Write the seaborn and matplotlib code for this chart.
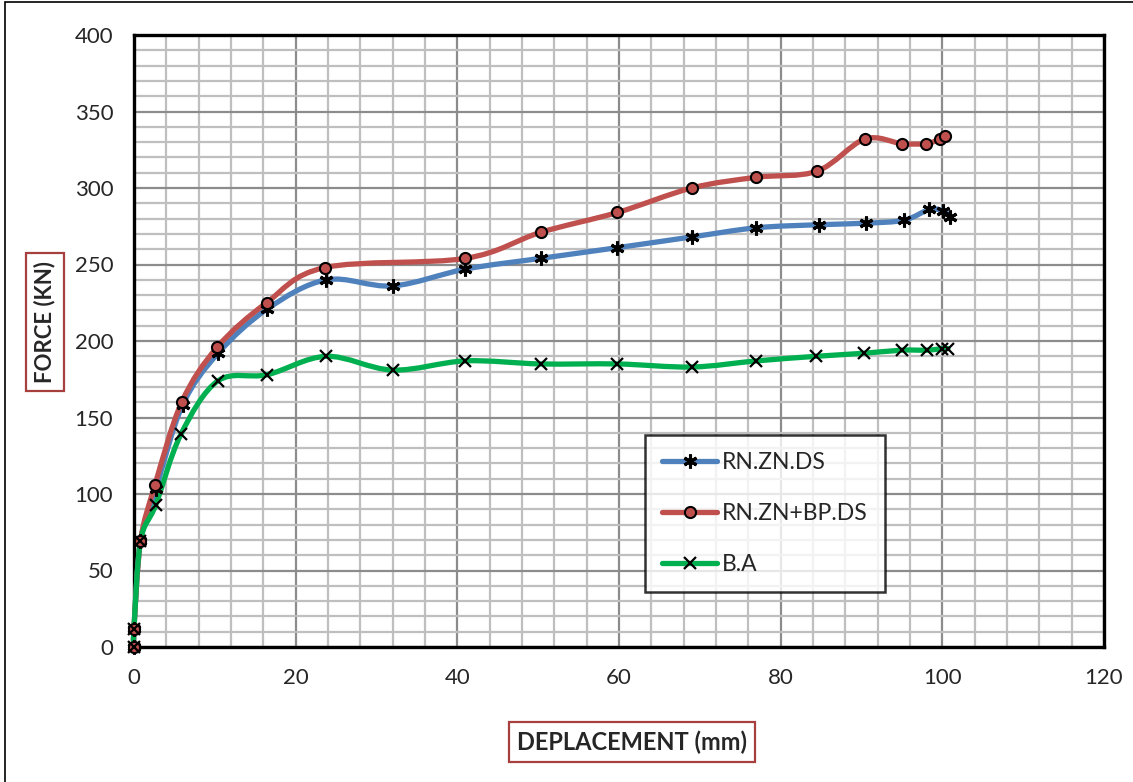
import numpy as np
import matplotlib
matplotlib.use("Agg")
import matplotlib.pyplot as plt
from matplotlib.path import Path
from matplotlib.patches import PathPatch, Rectangle
from matplotlib.lines import Line2D
from matplotlib.ticker import MultipleLocator
import seaborn as sns

# ---- data ----
x_blue = [0, 0, 0.8, 2.7, 6.0, 10.4, 16.5, 23.8, 32.0, 41.0, 50.3, 59.8, 69.0, 77.0, 84.7, 90.6, 95.3, 98.4, 100.1, 101.0]
y_blue = [0, 12, 69, 103, 158, 192, 221, 240, 236, 247, 254, 261, 268, 274, 276, 277, 279, 286, 285, 281]

x_red = [0, 0, 0.8, 2.6, 5.9, 10.3, 16.4, 23.6, 41.0, 50.3, 59.8, 69.0, 77.0, 84.5, 90.4, 95.0, 98.0, 99.7, 100.3]
y_red = [0, 12, 69, 106, 160, 196, 225, 248, 254, 271, 284, 300, 307, 311, 332, 329, 329, 332, 334]

x_green = [0, 0, 0.8, 2.7, 5.8, 10.4, 16.5, 23.8, 32.0, 41.0, 50.3, 59.8, 69.0, 77.0, 84.4, 90.3, 95.0, 98.1, 100.0, 100.7]
y_green = [0, 12, 69, 93, 139, 174, 178, 190, 181, 187, 185, 185, 183, 187, 190, 192, 194, 194, 195, 195]

series = [
    ("RN.ZN.DS", x_blue, y_blue, "#4F81BD", dict(marker=(6, 2, 0), markersize=10, markeredgewidth=2.2,
                                                 markeredgecolor="black", markerfacecolor="black")),
    ("RN.ZN+BP.DS", x_red, y_red, "#C0504D", dict(marker="o", markersize=8, markeredgewidth=1.5,
                                                 markeredgecolor="black", markerfacecolor="#C0504D")),
    ("B.A", x_green, y_green, "#00B050", dict(marker="x", markersize=8, markeredgewidth=1.6,
                                              markeredgecolor="black", markerfacecolor="black")),
]


def smooth_path(xs, ys):
    # excel-like smoothed line: cubic bezier through every point
    pts = np.column_stack([xs, ys]).astype(float)
    verts = [pts[0]]
    codes = [Path.MOVETO]
    n = len(pts)
    for i in range(n - 1):
        p0 = pts[i - 1] if i > 0 else pts[i]
        p1, p2 = pts[i], pts[i + 1]
        p3 = pts[i + 2] if i + 2 < n else pts[i + 1]
        c1 = p1 + (p2 - p0) / 6.0
        c2 = p2 - (p3 - p1) / 6.0
        verts += [c1, c2, p2]
        codes += [Path.CURVE4] * 3
    return Path(verts, codes)


sns.set_style("white")
plt.rcParams['font.family'] = ['Lato', 'DejaVu Sans']

fig = plt.figure(figsize=(11.33, 7.82), dpi=100)
ax = fig.add_axes([134 / 1133, 1 - 647 / 782, 970 / 1133, 612 / 782])

for name, xs, ys, col, mk in series:
    ax.add_patch(PathPatch(smooth_path(xs, ys), facecolor="none", edgecolor=col, lw=3.8,
                           capstyle="round", joinstyle="round", zorder=3, clip_on=False))
    sns.lineplot(x=xs, y=ys, estimator=None, sort=False, linestyle="", ax=ax, zorder=4,
                 clip_on=False, **mk)

ax.set_xlim(0, 120)
ax.set_ylim(0, 400)
ax.xaxis.set_major_locator(MultipleLocator(20))
ax.xaxis.set_minor_locator(MultipleLocator(4))
ax.yaxis.set_major_locator(MultipleLocator(50))
ax.yaxis.set_minor_locator(MultipleLocator(10))
ax.grid(which="minor", color="#BFBFBF", lw=1.6, zorder=0)
ax.grid(which="major", color="#8C8C8C", lw=1.6, zorder=0)
ax.set_axisbelow(True)
for s in ax.spines.values():
    s.set_color("black")
    s.set_linewidth(2.4)
    s.set_zorder(2.5)
ax.tick_params(which="major", direction="out", length=7, width=2, labelsize=16, pad=8, color="black")
ax.tick_params(axis="y", which="major", direction="inout", length=14)
ax.tick_params(which="minor", direction="in", length=6, width=2, color="black")
ax.set_xlabel("")
ax.set_ylabel("")

handles = [Line2D([], [], color=col, lw=3.8, solid_capstyle="round", **mk) for _, _, _, col, mk in series]
leg = ax.legend(handles, [s[0] for s in series], loc="upper left",
                bbox_to_anchor=((645 - 134) / 970, (647 - 435) / 612),
                fontsize=16.5, frameon=True, fancybox=False, handlelength=2.4,
                labelspacing=1.3, borderpad=0.75, handletextpad=0.2, borderaxespad=0)
leg.get_frame().set_edgecolor("black")
leg.get_frame().set_linewidth(1.8)
leg.set_zorder(6)

box = dict(boxstyle="square,pad=0.35", facecolor="white", edgecolor="#A5403E", lw=1.6)
fig.text(632 / 1133, 1 - 742 / 782, "DEPLACEMENT (mm)", ha="center", va="center",
         fontsize=17, fontweight="bold", bbox=box)
fig.text(45 / 1133, 1 - 322 / 782, "FORCE (KN)", ha="center", va="center", rotation=90,
         fontsize=16, fontweight="bold", bbox=box)

fig.patches.append(Rectangle((5 / 1133, -0.01), 1.02, 1 - 2 / 782 + 0.01, transform=fig.transFigure,
                             fill=False, edgecolor="black", lw=1.2))

fig.savefig("out.png", dpi=100)
